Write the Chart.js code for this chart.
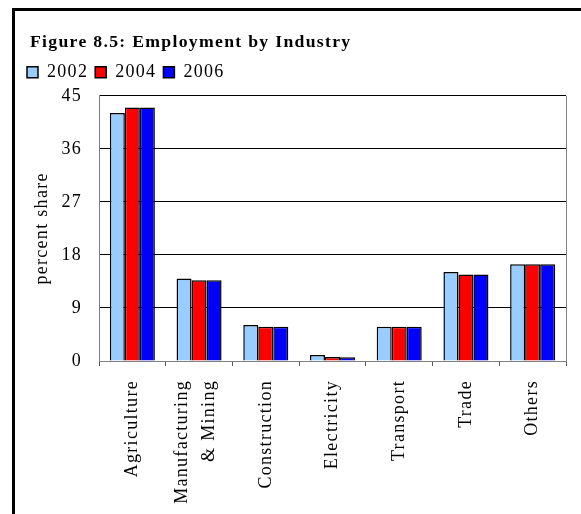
<!DOCTYPE html>
<html>
<head>
<meta charset="utf-8">
<script src="https://cdn.jsdelivr.net/npm/chart.js@4/dist/chart.umd.min.js"></script>
<style>
  html, body { margin: 0; padding: 0; background: #fff; }
  #wrap { position: relative; width: 581px; height: 514px; overflow: hidden; }
  #frame { position: absolute; left: 12px; top: 8px; width: 700px; height: 700px;
           border-left: 3px solid #000; border-top: 3px solid #000; }
  #myChart { position: absolute; left: 0; top: 0; }
</style>
</head>
<body>
<div id="wrap">
  <div id="frame"></div>
  <canvas id="myChart" width="581" height="514"></canvas>
</div>
<script>
const industries = ["Agriculture", ["Manufacturing", "& Mining"], "Construction", "Electricity", "Transport", "Trade", "Others"];
const years = ["2002", "2004", "2006"];
const share2002 = [42.1, 14.0, 6.1, 1.0, 5.8, 15.1, 16.4];
const share2004 = [43.0, 13.7, 5.8, 0.7, 5.8, 14.7, 16.4];
const share2006 = [43.0, 13.7, 5.8, 0.65, 5.8, 14.7, 16.4];
const yTicks = [0, 9, 18, 27, 36, 45];

const serif = "'Liberation Serif', 'Times New Roman', serif";

// the original text is set a bit loose, so widen the letters
const looseText = {
    id: 'looseText',
    beforeLayout(chart) { chart.ctx.letterSpacing = '1.3px'; },
    beforeDraw(chart) { chart.ctx.letterSpacing = '1.3px'; }
};

// legend sits a few px higher above the plot than chart.js puts it
const legendGap = {
    id: 'legendGap',
    beforeLayout(chart) {
        const lg = chart.legend;
        if (lg && !lg._gapPatched) {
            const fit = lg.fit;
            lg.fit = function () { fit.call(this); this.height += 4.5; };
            lg._gapPatched = true;
        }
    }
};

// thin grey line on the right of the plot area
const plotFrame = {
    id: 'plotFrame',
    beforeDatasetsDraw(chart) {
        const a = chart.chartArea;
        const c = chart.ctx;
        c.save();
        c.strokeStyle = '#808080';
        c.lineWidth = 1;
        c.beginPath();
        c.moveTo(a.right + 0.5, a.top);
        c.lineTo(a.right + 0.5, a.bottom);
        c.stroke();
        c.restore();
    }
};

// title a bit right of the legend, legend flush with the frame
const blockShift = {
    id: 'blockShift',
    afterLayout(chart) {
        if (chart.titleBlock) {
            chart.titleBlock.left += 3;
            chart.titleBlock.right += 3;
        }
        if (chart.legend) {
            chart.legend.left -= 7;
            chart.legend.right -= 7;
        }
    },
    beforeDraw(chart) {
        // centre the two-line label on its tick like Excel does
        const xs = chart.scales.x;
        const items = xs.getLabelItems(chart.chartArea);
        items.forEach(it => {
            if (Array.isArray(it.label) && !it._shifted) {
                it.options.translation[0] -= 17;
                it._shifted = true;
            }
        });
    }
};

const ctx = document.getElementById('myChart');

new Chart(ctx, {
    type: 'bar',
    data: {
        labels: industries,
        datasets: [
            { label: years[0], data: share2002, backgroundColor: "#99CCFF" },
            { label: years[1], data: share2004, backgroundColor: "#FF0000" },
            { label: years[2], data: share2006, backgroundColor: "#0000FF" }
        ].map(d => Object.assign(d, {
            borderColor: "#000",
            borderWidth: 1.5,
            categoryPercentage: 0.675,
            barPercentage: 1.0
        }))
    },
    options: {
        responsive: false,
        animation: false,
        layout: { padding: { left: 27, top: 12, right: 15, bottom: 10 } },
        plugins: {
            title: {
                display: true,
                text: "Figure 8.5: Employment by Industry",
                align: 'start',
                color: '#000',
                font: { family: serif, size: 17.7, weight: 'bold' },
                padding: { top: 19.6, bottom: 3.5 }
            },
            legend: {
                display: true,
                align: 'start',
                labels: {
                    color: '#000',
                    font: { family: serif, size: 18 },
                    boxWidth: 11,
                    boxHeight: 11,
                    padding: 7,
                    useBorderRadius: false
                }
            },
            tooltip: { enabled: false }
        },
        scales: {
            x: {
                grid: {
                    display: true,
                    drawOnChartArea: false,
                    offset: true,
                    tickLength: 5,
                    color: '#555'
                },
                border: { display: true, color: '#808080' },
                ticks: {
                    color: '#000',
                    font: { family: serif, size: 18, lineHeight: 1.5 },
                    minRotation: 90,
                    maxRotation: 90,
                    autoSkip: false,
                    padding: 14
                },
                afterFit(scale) { scale.height = 143; }
            },
            y: {
                min: 0,
                max: 45,
                afterBuildTicks(scale) { scale.ticks = yTicks.map(v => ({ value: v })); },
                grid: { color: '#000', lineWidth: 1, drawTicks: false },
                border: { display: true, color: '#808080' },
                ticks: {
                    color: '#000',
                    font: { family: serif, size: 18 },
                    padding: 17
                },
                title: {
                    display: true,
                    text: "percent share",
                    color: '#000',
                    font: { family: serif, size: 18 },
                    padding: { top: 4, bottom: 0 }
                },
                afterFit(scale) { scale.width = 72; }
            }
        }
    },
    plugins: [looseText, legendGap, plotFrame, blockShift]
});
</script>
</body>
</html>
